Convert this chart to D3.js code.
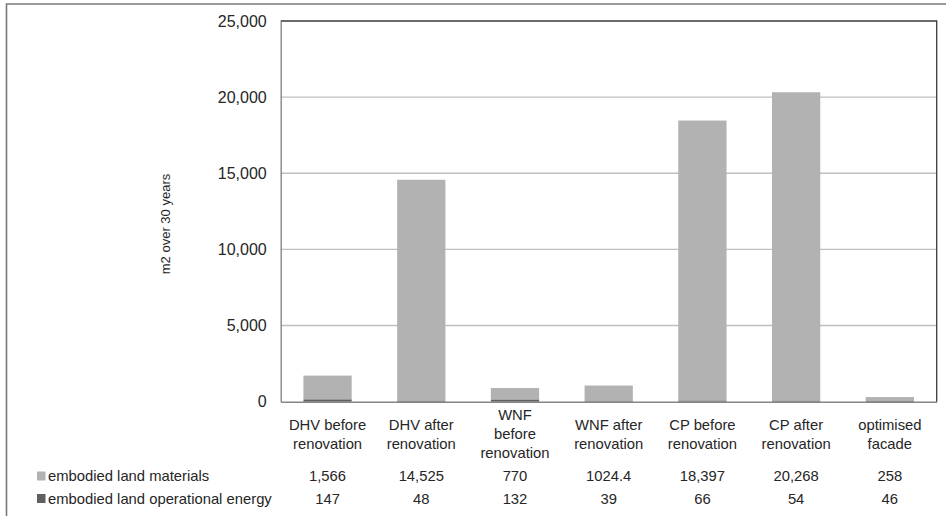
<!DOCTYPE html>
<html>
<head>
<meta charset="utf-8">
<script src="https://cdn.jsdelivr.net/npm/d3@7"></script>
<style>
  html, body { margin: 0; padding: 0; background: #fff; }
  svg { display: block; }
  text { font-family: "Liberation Sans", Arial, sans-serif; fill: #262626; }
</style>
</head>
<body>
<svg id="chart" width="946" height="516"></svg>
<script>
// ---- data ----
const categories = [
  ["DHV before", "renovation"],
  ["DHV after", "renovation"],
  ["WNF", "before", "renovation"],
  ["WNF after", "renovation"],
  ["CP before", "renovation"],
  ["CP after", "renovation"],
  ["optimised", "facade"]
];
const materials = [1566, 14525, 770, 1024.4, 18397, 20268, 258];
const operational = [147, 48, 132, 39, 66, 54, 46];
const materialsLabels = ["1,566", "14,525", "770", "1024.4", "18,397", "20,268", "258"];
const operationalLabels = ["147", "48", "132", "39", "66", "54", "46"];
const seriesNames = ["embodied land materials", "embodied land operational energy"];
const yTicks = [0, 5000, 10000, 15000, 20000, 25000];
const yTitle = "m2 over 30 years";

// ---- layout ----
const svg = d3.select("#chart");
const plot = { left: 280.7, right: 936.7, top: 21, bottom: 401.7 };
const colLight = "#b2b2b2", colDark = "#5f5f5f";

// outer border (extends beyond right/bottom edges)
svg.append("path")
  .attr("d", `M6.5,520 V4 H950`)
  .attr("fill", "none").attr("stroke", "#7a7a7a").attr("stroke-width", 1.6);

const x = d3.scaleBand().domain(d3.range(categories.length))
  .range([plot.left, plot.right]).paddingInner(0).paddingOuter(0);
const y = d3.scaleLinear().domain([0, 25000]).range([plot.bottom, plot.top]);
const barW = x.bandwidth() * 0.515;

// gridlines
svg.append("g").selectAll("line").data(yTicks.filter(t => t > 0 && t < 25000)).join("line")
  .attr("x1", plot.left).attr("x2", plot.right)
  .attr("y1", d => y(d)).attr("y2", d => y(d))
  .attr("stroke", "#bfbfbf").attr("stroke-width", 1.4);

// bars: operational (dark) bottom, materials (light) on top
const g = svg.append("g");
g.selectAll("rect.mat").data(materials).join("rect").attr("class", "mat")
  .attr("x", (d, i) => x(i) + (x.bandwidth() - barW) / 2)
  .attr("width", barW)
  .attr("y", (d, i) => y(operational[i] + d))
  .attr("height", (d, i) => y(operational[i]) - y(operational[i] + d))
  .attr("fill", colLight);
g.selectAll("rect.op").data(operational).join("rect").attr("class", "op")
  .attr("x", (d, i) => x(i) + (x.bandwidth() - barW) / 2)
  .attr("width", barW)
  .attr("y", d => y(d))
  .attr("height", d => y(0) - y(d))
  .attr("fill", colDark);

// plot frame: top & right dark, left & bottom axis gray
svg.append("path")
  .attr("d", `M${plot.left},${plot.top} H${plot.right} V${plot.bottom}`)
  .attr("fill", "none").attr("stroke", "#3a3a3a").attr("stroke-width", 1.3);

const yAxis = d3.axisLeft(y).tickValues(yTicks).tickSize(0).tickPadding(14)
  .tickFormat(d3.format(","));
const ya = svg.append("g").attr("transform", `translate(${plot.left},0)`).call(yAxis);
ya.select(".domain").attr("stroke", "#868686").attr("stroke-width", 1.4);
ya.selectAll("text").style("font-size", "16px").style("font-family", '"Liberation Sans", Arial, sans-serif').attr("fill", "#262626");

const xAxis = d3.axisBottom(x).tickSize(0).tickFormat("");
const xa = svg.append("g").attr("transform", `translate(0,${plot.bottom})`).call(xAxis);
xa.select(".domain").attr("stroke", "#868686").attr("stroke-width", 1.4);

// category labels
const lineH = 19, labelMid = 434;
categories.forEach((lines, i) => {
  const cx = x(i) + x.bandwidth() / 2;
  const t = svg.append("text").attr("text-anchor", "middle").style("font-size", "14.8px");
  lines.forEach((ln, k) => {
    t.append("tspan").attr("x", cx)
      .attr("y", labelMid + (k - (lines.length - 1) / 2) * lineH)
      .attr("dy", "0.35em").text(ln);
  });
});

// data table rows
const rows = [
  { name: seriesNames[0], color: colLight, labels: materialsLabels, cy: 476 },
  { name: seriesNames[1], color: colDark, labels: operationalLabels, cy: 498.5 }
];
rows.forEach(r => {
  svg.append("rect").attr("x", 37).attr("y", r.cy - 4.5).attr("width", 8.5).attr("height", 9).attr("fill", r.color);
  svg.append("text").attr("x", 48).attr("y", r.cy).attr("dy", "0.35em")
    .style("font-size", "14.8px").text(r.name);
  svg.append("g").selectAll("text").data(r.labels).join("text")
    .attr("x", (d, i) => x(i) + x.bandwidth() / 2)
    .attr("y", r.cy).attr("dy", "0.35em").attr("text-anchor", "middle")
    .style("font-size", "14.8px").text(d => d);
});

// y title
svg.append("text")
  .attr("transform", `translate(170,224) rotate(-90)`)
  .attr("text-anchor", "middle").style("font-size", "13px")
  .text(yTitle);
</script>
</body>
</html>
